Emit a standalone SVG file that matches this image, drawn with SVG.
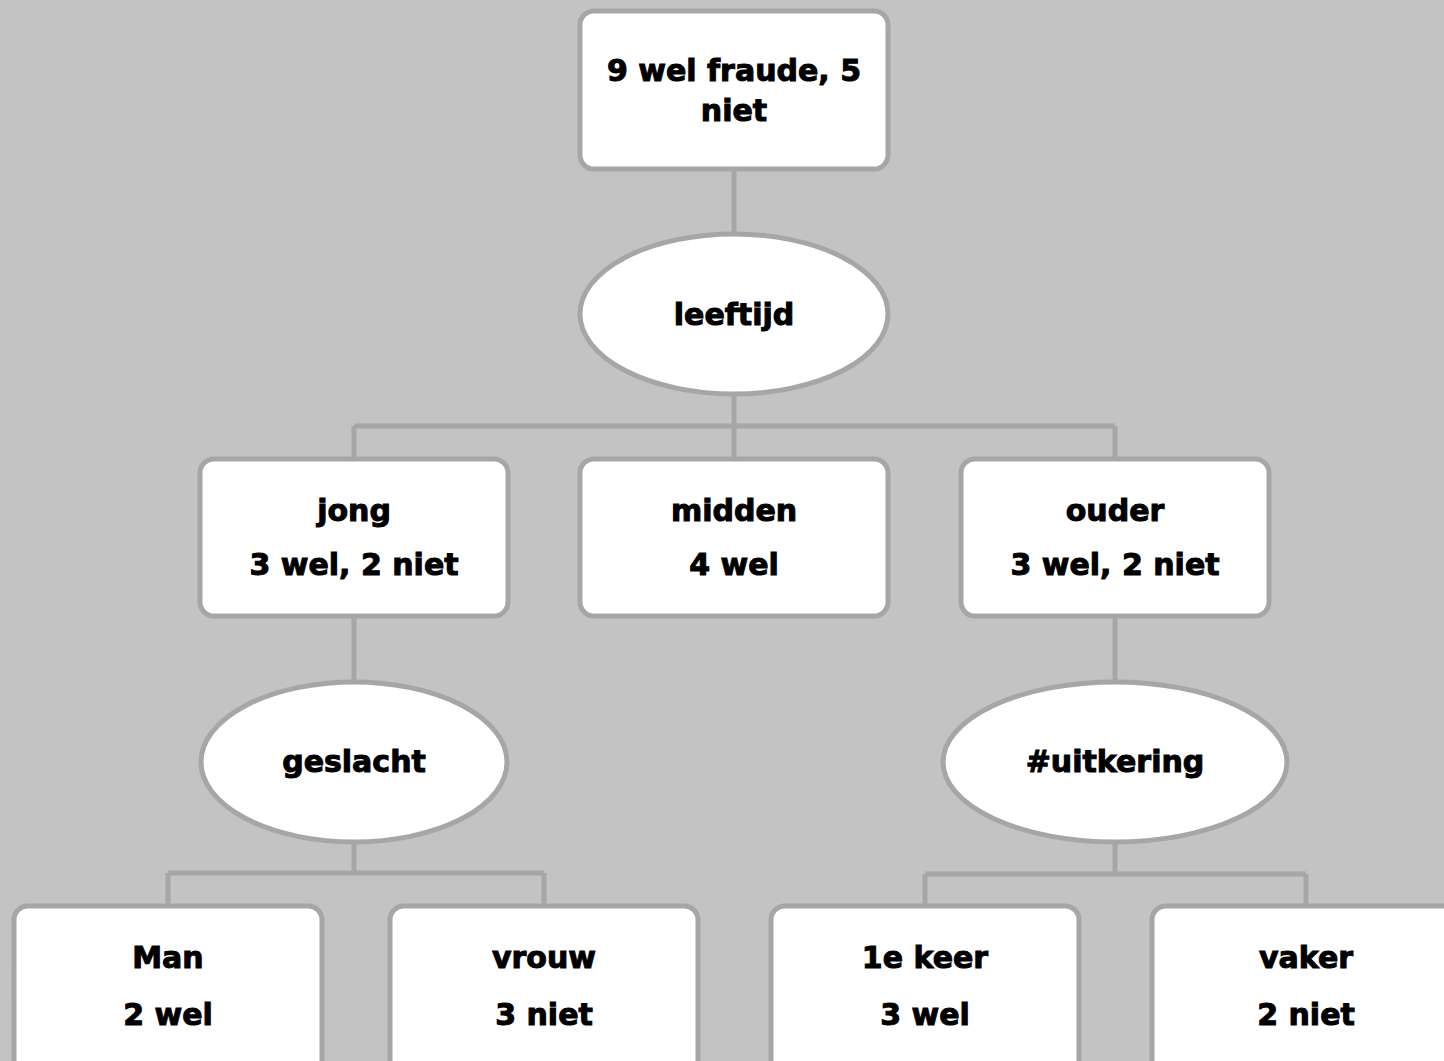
<svg xmlns="http://www.w3.org/2000/svg" width="1444" height="1061" viewBox="0 0 1444 1061">
<style>
.bg{fill:#c3c3c3}
.box{fill:#ffffff;stroke:#a6a6a6;stroke-width:5}
.conn{fill:none;stroke:#a6a6a6;stroke-width:5}
.t{font-family:"DejaVu Sans",sans-serif;font-weight:bold;font-size:30px;fill:#000;stroke:#000;stroke-width:1;text-anchor:middle}
</style>
<rect class="bg" x="0" y="0" width="1444" height="1061"/>
<g id="connectors">
<path class="conn" d="M734 169 V459 M354 426 H1115 M354 426 V459 M1115 426 V459"/>
<path class="conn" d="M354 616 V873 M168 873 H544 M168 873 V906 M544 873 V906"/>
<path class="conn" d="M1115 616 V874 M925 874 H1306 M925 874 V906 M1306 874 V906"/>
</g>
<g id="root">
<rect class="box" x="580" y="11" width="308" height="158" rx="14"/>
<text class="t" x="734" y="81">9 wel fraude, 5</text>
<text class="t" x="734" y="121">niet</text>
</g>
<g id="leeftijd">
<ellipse class="box" cx="734" cy="314" rx="154" ry="80"/>
<text class="t" x="734" y="325">leeftijd</text>
</g>
<g id="jong">
<rect class="box" x="200" y="459" width="308" height="157" rx="14"/>
<text class="t" x="354" y="521">jong</text>
<text class="t" x="354" y="575">3 wel, 2 niet</text>
</g>
<g id="midden">
<rect class="box" x="580" y="459" width="308" height="157" rx="14"/>
<text class="t" x="734" y="521">midden</text>
<text class="t" x="734" y="575">4 wel</text>
</g>
<g id="ouder">
<rect class="box" x="961" y="459" width="308" height="157" rx="14"/>
<text class="t" x="1115" y="521">ouder</text>
<text class="t" x="1115" y="575">3 wel, 2 niet</text>
</g>
<g id="geslacht">
<ellipse class="box" cx="354" cy="762" rx="153" ry="80"/>
<text class="t" x="354" y="772">geslacht</text>
</g>
<g id="uitkering">
<ellipse class="box" cx="1115" cy="762" rx="172" ry="80"/>
<text class="t" x="1115" y="772">#uitkering</text>
</g>
<g id="man">
<rect class="box" x="14" y="906" width="308" height="180" rx="14"/>
<text class="t" x="168" y="968">Man</text>
<text class="t" x="168" y="1025">2 wel</text>
</g>
<g id="vrouw">
<rect class="box" x="390" y="906" width="308" height="180" rx="14"/>
<text class="t" x="544" y="968">vrouw</text>
<text class="t" x="544" y="1025">3 niet</text>
</g>
<g id="eerstekeer">
<rect class="box" x="771" y="906" width="308" height="180" rx="14"/>
<text class="t" x="925" y="968">1e keer</text>
<text class="t" x="925" y="1025">3 wel</text>
</g>
<g id="vaker">
<rect class="box" x="1152" y="906" width="308" height="180" rx="14"/>
<text class="t" x="1306" y="968">vaker</text>
<text class="t" x="1306" y="1025">2 niet</text>
</g>
</svg>
